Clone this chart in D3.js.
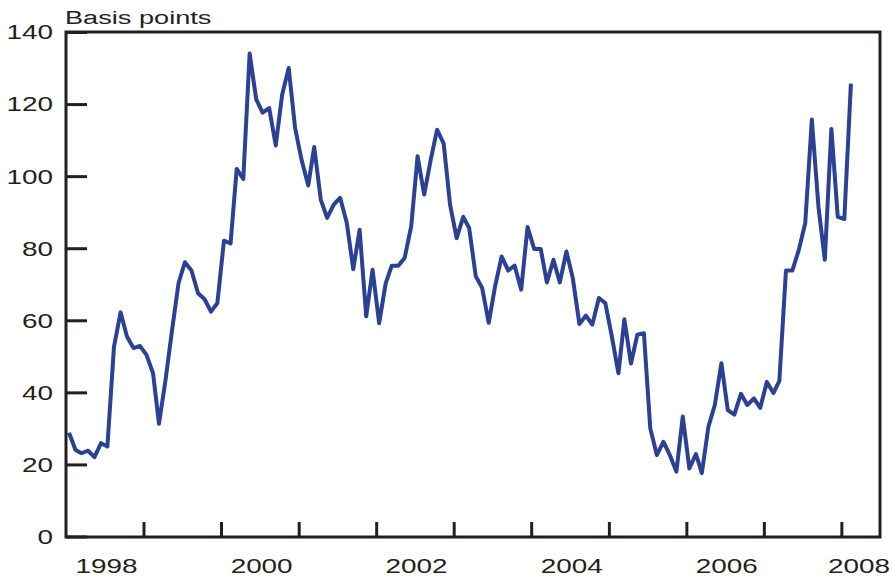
<!DOCTYPE html>
<html>
<head>
<meta charset="utf-8">
<script src="https://cdn.jsdelivr.net/npm/d3@7"></script>
<style>
  html, body { margin: 0; padding: 0; background: #fff; }
  #chart { width: 893px; height: 578px; }
  text { font-family: "Liberation Sans", Arial, Helvetica, sans-serif; fill: #231f20; }
</style>
</head>
<body>
<div id="chart"></div>
<script>
// Monthly spread, basis points, Jan 1998 - Feb 2008.
var startMonth = new Date(1998, 0, 15);
var spreadValues = [
  28.8, 24.0, 23.1, 23.8, 22.0, 25.9, 25.0, 52.6, 62.2, 55.5, 52.3, 52.9,   // 1998
  50.4, 45.3, 31.3, 43.5, 57.0, 70.3, 76.1, 73.8, 67.5, 65.9, 62.4, 64.8,   // 1999
  82.1, 81.3, 102.0, 99.2, 134.0, 121.3, 117.6, 118.9, 108.5, 122.6, 130.0, 113.4, // 2000
  104.4, 97.4, 108.1, 93.5, 88.4, 92.1, 94.0, 87.2, 74.2, 85.1, 61.1, 74.0, // 2001
  59.2, 70.3, 75.1, 75.1, 77.3, 86.1, 105.5, 94.9, 104.6, 112.9, 109.0, 92.1, // 2002
  82.8, 88.7, 85.6, 72.2, 69.0, 59.3, 69.4, 77.7, 73.8, 75.2, 68.5, 85.9,   // 2003
  79.8, 79.8, 70.5, 76.8, 70.5, 79.1, 71.7, 59.0, 61.3, 58.8, 66.2, 64.8,   // 2004
  55.5, 45.3, 60.3, 48.0, 56.0, 56.4, 30.0, 22.6, 26.3, 22.6, 18.0, 33.3,   // 2005
  18.9, 22.9, 17.6, 30.5, 36.5, 48.1, 35.1, 33.8, 39.6, 36.5, 38.3, 35.7,   // 2006
  42.9, 39.8, 43.2, 73.8, 73.8, 79.6, 87.0, 115.7, 91.6, 76.8, 113.1, 88.7, // 2007
  88.1, 125.7                                                              // 2008
];
var yTicks = [0, 20, 40, 60, 80, 100, 120, 140];
var yearTicks = [1999, 2000, 2001, 2002, 2003, 2004, 2005, 2006, 2007, 2008];
var yearLabels = [1998, 2000, 2002, 2004, 2006, 2008];
var yTitle = "Basis points";

var width = 893, height = 578,
  margin = { top: 32, right: 13, bottom: 41, left: 66 },
  textStretch = 1.43,
  fontSize = "19.5px";

var data = spreadValues.map(function(v, i) {
  return { date: d3.timeMonth.offset(startMonth, i), value: v };
});

var x = d3.scaleTime()
  .domain([new Date(1998, 0, 1), new Date(2008, 6, 1)])
  .range([margin.left, width - margin.right]);

var y = d3.scaleLinear()
  .domain([0, 140])
  .range([height - margin.bottom - 0.5, margin.top]);

var svg = d3.select("#chart").append("svg")
  .attr("width", width)
  .attr("height", height);

// stretched text, like the original print
function stretchText(sel) {
  sel.each(function() {
    var t = d3.select(this),
      tx = +t.attr("x") || 0,
      ty = +t.attr("y") || 0;
    t.attr("x", 0).attr("y", 0)
      .attr("transform", "translate(" + tx + "," + ty + ") scale(" + textStretch + ",1)");
  });
}

// Y axis ticks + labels
var yAxis = svg.append("g")
  .attr("transform", "translate(" + margin.left + ",0)")
  .call(d3.axisLeft(y).tickValues(yTicks).tickSize(-21).tickSizeOuter(0).tickPadding(13));
yAxis.select(".domain").remove();
yAxis.selectAll(".tick line").attr("stroke", "#231f20").attr("stroke-width", 3);
yAxis.selectAll(".tick text")
  .attr("dy", null)
  .attr("dominant-baseline", "central")
  .style("font-size", fontSize)
  .call(stretchText);

// X axis year ticks
var xAxis = svg.append("g")
  .attr("transform", "translate(0," + (height - margin.bottom) + ")")
  .call(d3.axisBottom(x)
    .tickValues(yearTicks.map(function(d) { return new Date(d, 0, 1); }))
    .tickSize(-15).tickSizeOuter(0).tickFormat(""));
xAxis.select(".domain").remove();
xAxis.selectAll(".tick line").attr("stroke", "#231f20").attr("stroke-width", 3);

// Year labels, centred on mid-year; the last one is pulled in to fit
svg.append("g").selectAll("text")
  .data(yearLabels)
  .enter().append("text")
    .text(function(d) { return d; })
    .attr("x", function(d) {
      var xm = x(new Date(d, 6, 1));
      return d === 2008 ? width - margin.right + 10 : xm + 2;
    })
    .attr("y", 573)
    .style("text-anchor", function(d) { return d === 2008 ? "end" : "middle"; })
    .style("font-size", fontSize)
    .call(stretchText);

// Title
svg.append("text")
  .text(yTitle)
  .attr("x", margin.left - 1)
  .attr("y", 24)
  .style("font-size", "19px")
  .call(stretchText);

// The spread line
var line = d3.line()
  .x(function(d) { return x(d.date); })
  .y(function(d) { return y(d.value); });

svg.append("path")
  .datum(data)
  .attr("d", line)
  .attr("fill", "none")
  .attr("stroke", "#2a4194")
  .attr("stroke-width", 4)
  .attr("stroke-linejoin", "round");

// Frame
svg.append("rect")
  .attr("x", margin.left)
  .attr("y", margin.top)
  .attr("width", width - margin.right - margin.left)
  .attr("height", height - margin.bottom - margin.top)
  .attr("fill", "none")
  .attr("stroke", "#231f20")
  .attr("stroke-width", 3);
</script>
</body>
</html>
